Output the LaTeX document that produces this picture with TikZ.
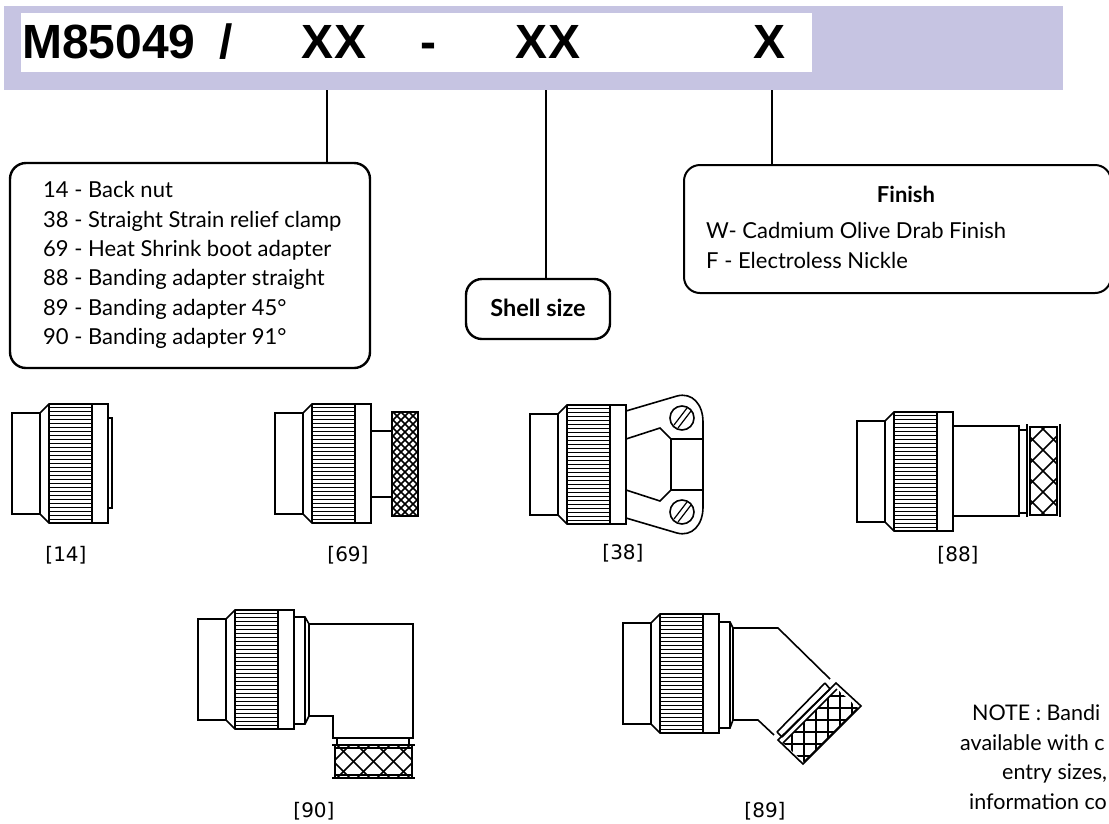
\documentclass[tikz,border=0pt]{standalone}
\usepackage{fontspec}
\setmainfont{Lato}
\newfontfamily\headfont{Liberation Sans}
\newfontfamily\capfont{DejaVu Sans}
\definecolor{barblue}{HTML}{C6C4E2}
\newcommand{\braidfill}[5]{%
	\begin{scope}[shift={(#1,#2)}]
		\clip (-#3,-#4) rectangle (#3,#4);
		\foreach \s in {#5} {
			\draw[braid] (\s-100,-100) -- (\s+100,100);
			\draw[braid] (\s+100,-100) -- (\s-100,100);
		}
	\end{scope}}
\tikzset{
	outline/.style={draw, line width=1.6pt, line join=miter},
	braid/.style={draw, line width=1.7pt},
	infobox/.style={draw, line width=2.4pt, rounded corners=16pt, fill=white},
	infotext/.style={font=\fontsize{22}{29.4}\selectfont, align=left, inner sep=0pt},
	notetext/.style={font=\fontsize{21.5}{29.4}\selectfont, inner sep=0pt, anchor=west},
	headpart/.style={font=\headfont\bfseries\fontsize{48}{48}\selectfont, inner sep=0pt, anchor=base},
	figcap/.style={font=\capfont\fontsize{20}{20}\selectfont, inner sep=0pt},
	coupling/.pic={
		\draw[outline] (0,-50.5) rectangle (28,50.5);
		\draw[outline] (28,-50.5) -- (37,-59.5) -- (96,-59.5) -- (96,59.5) -- (37,59.5) -- (28,50.5);
		\draw[outline] (37,-59.5) -- (37,59.5) (80,-59.5) -- (80,59.5);
		\foreach \k in {-56,-52,...,56} \draw[line width=1.1pt] (37,\k) -- (80,\k);
	}
}
\begin{document}
\begin{tikzpicture}[x=1pt, y=-1pt]
	\clip (0,0) rectangle (1109,823);
	% part number bar
	\node (bar) at (533.5,48) [fill=barblue, minimum width=1059pt, minimum height=84pt, inner sep=0pt] {};
	\node (barwhite) at (416.5,42.5) [fill=white, minimum width=791pt, minimum height=59pt, inner sep=0pt] {};
	\node (prefix) at (22,58.5) [headpart, anchor=base west] {M85049};
	\node (slash) at (226,58.5) [headpart] {/};
	\node (adapter) at (334,58.5) [headpart] {XX};
	\node (dash) at (428,58.5) [headpart] {-};
	\node (shell) at (548,58.5) [headpart] {XX};
	\node (finish) at (770,58.5) [headpart] {X};
	% option boxes
	\node (backbox) at (190,265.5) [infobox, minimum width=360pt, minimum height=205pt] {};
	\node (backtext) at (43,265) [infotext, anchor=west] {14 - Back nut\\
		38 - Straight Strain relief clamp\\
		69 - Heat Shrink boot adapter\\
		88 - Banding adapter straight\\
		89 - Banding adapter 45°\\
		90 - Banding adapter 91°};
	\node (shellbox) at (538,309) [infobox, minimum width=144pt, minimum height=60pt] {};
	\node (shelltext) at (538,308) [infotext, font=\bfseries\fontsize{23.5}{24}\selectfont] {Shell size};
	\node (finishbox) at (897.5,229) [infobox, line width=2pt, minimum width=427pt, minimum height=128pt] {};
	\node (finishtitle) at (906,194) [infotext, font=\bfseries\fontsize{22}{24}\selectfont] {Finish};
	\node (finishtext) at (706,245.5) [infotext, anchor=west] {W- Cadmium Olive Drab Finish\\
		F - Electroless Nickle};
	\coordinate (drop1) at (327,90);
	\coordinate (drop2) at (546,90);
	\coordinate (drop3) at (772,90);
	\draw[line width=1.4pt] (drop1) -- (drop1 |- backbox.north);
	\draw[line width=1.4pt] (drop2) -- (drop2 |- shellbox.north);
	\draw[line width=1.4pt] (drop3) -- (drop3 |- finishbox.north);
	% [14]
	\pic at (12,463.5) {coupling};
	\draw[outline] (108,418) -- (112,418) -- (112,508) -- (108,508);
	\node (cap14) at (66,555) [figcap] {[14]};
	% [69]
	\pic at (275,463.5) {coupling};
	\draw[outline] (371,431) -- (392,431) (371,497) -- (392,497);
	\braidfill{405}{464}{13}{52}{-80,-72,...,80}
	\draw[outline] (392,412) rectangle (418,516);
	\node (cap69) at (348,555) [figcap] {[69]};
	% [38]
	\pic at (530,464.5) {coupling};
	\draw[outline] (626,411) -- (677,396) .. controls (692,392) and (703,404) .. (703,422)
		-- (703,507) .. controls (703,525) and (692,537) .. (677,533) -- (626,518);
	\draw[outline] (626,439) -- (660,428) -- (671,439) -- (703,439);
	\draw[outline] (626,490) -- (660,501) -- (671,490) -- (703,490);
	\draw[outline] (671,439) -- (671,490);
	\foreach \y in {418,512} {
		\draw[outline] (682,\y) circle [radius=12];
		\draw[line width=1.2pt] (674,\y+7) -- (687,\y-10) (678,\y+10) -- (691,\y-7);
	}
	\node (cap38) at (623,553) [figcap] {[38]};
	% [88]
	\pic at (857,471.5) {coupling};
	\draw[outline] (953,426) rectangle (1019,516);
	\draw[outline] (1019,430) -- (1027,430) (1019,513) -- (1027,513);
	\braidfill{1043}{471}{14}{44}{-84,-63,...,84}
	\draw[outline] (1029,427) -- (1057,427) (1029,515) -- (1057,515);
	\draw[outline] (1027,424) -- (1027,517) (1030,426) -- (1030,516);
	\draw[outline] (1060,424) -- (1060,517) (1057,426) -- (1057,516);
	\node (cap88) at (958,555) [figcap] {[88]};
	% [90]
	\pic at (198,669.5) {coupling};
	\draw[outline] (294,617) -- (305,617) -- (309,624) -- (413,624) -- (413,738) -- (333,738) -- (333,716) -- (309,716) -- (305,724) -- (294,724);
	\draw[outline] (305,617) -- (305,724) (309,624) -- (309,716);
	\draw[outline] (337,738) -- (337,745) (409,738) -- (409,745);
	\braidfill{373.5}{761.5}{39}{15}{-80,-60,...,80}
	\draw[outline] (332,745) -- (415,745) (335,748) -- (412,748);
	\draw[outline] (332,778) -- (415,778) (335,775) -- (412,775);
	\draw[outline] (335,745) -- (335,778) (412,745) -- (412,778);
	\node (cap90) at (314,811) [figcap] {[90]};
	% [89]
	\pic at (623,673.5) {coupling};
	\draw[outline] (719,622) -- (730,622) -- (733,628) -- (778,628) -- (830,679);
	\draw[outline] (719,728) -- (730,728) -- (733,720) -- (758,720) -- (774,735);
	\draw[outline] (730,622) -- (730,728) (733,628) -- (733,720);
	\draw[outline] (777,732) -- (825,683) (782,737) -- (830,689);
	\draw[outline] (777,732) -- (782,737) (825,683) -- (830,689);
	\begin{scope}
		\clip (783,743) -- (837,689) -- (858,708) -- (804,762) -- cycle;
		\foreach \s in {780,792,...,864} \draw[braid] (\s,680) -- (\s,770);
		\foreach \s in {684,696,...,768} \draw[braid] (775,\s) -- (865,\s);
	\end{scope}
	\draw[outline] (778,740) -- (836,683) -- (861,706) -- (803,764) -- cycle;
	\draw[outline] (783,743) -- (837,689) (804,762) -- (858,708);
	\node (cap89) at (765,811) [figcap] {[89]};
	% note
	\node (note1) at (972,713) [notetext] {NOTE : Bandi};
	\node (note2) at (960,743) [notetext] {available with c};
	\node (note3) at (1002,773) [notetext] {entry sizes,};
	\node (note4) at (969,802) [notetext] {information co};
\end{tikzpicture}
\end{document}
